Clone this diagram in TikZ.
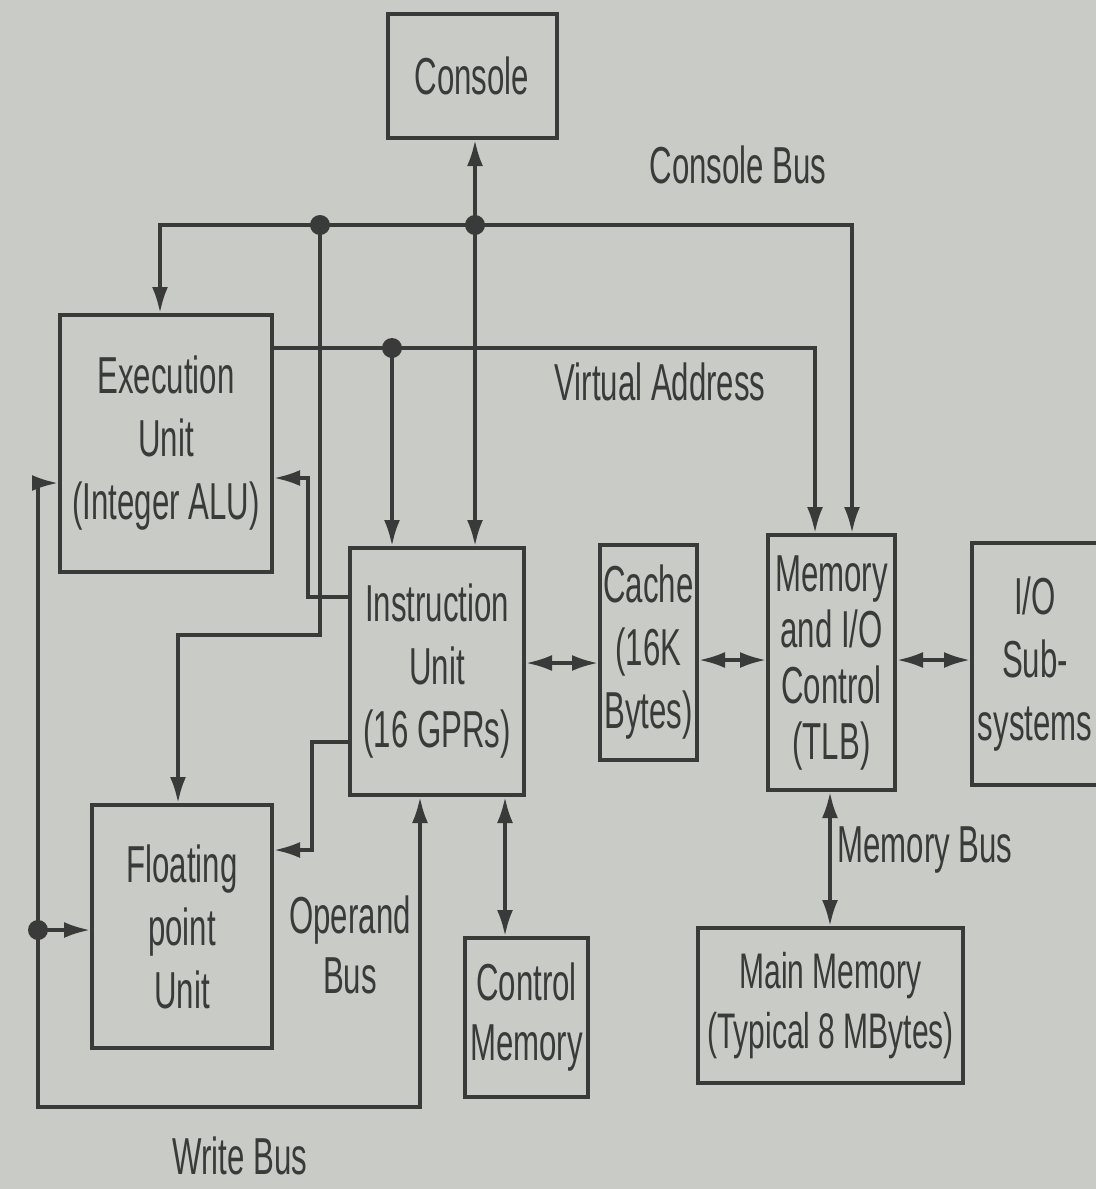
\documentclass[tikz,border=0pt]{standalone}
\usepackage{fontspec}
\setmainfont[FakeStretch=0.6]{Liberation Sans}
\usetikzlibrary{arrows.meta,calc}
\definecolor{paper}{RGB}{201,203,199}
\definecolor{ink}{RGB}{58,58,58}
\begin{document}
\begin{tikzpicture}[x=0.5pt,y=-0.5pt,
  every node/.style={text=ink, font=\fontsize{26}{31.5}\selectfont},
  blk/.style={draw=ink, line width=2pt, align=center, inner sep=0pt},
  bus/.style={draw=ink, line width=1.7pt},
  tip/.tip={Latex[length=13pt,width=8pt]},
  arr/.style={bus, -tip},
  darr/.style={bus, tip-tip},
  junc/.style={circle, fill=ink, inner sep=0pt, minimum size=10pt}]
\fill[paper] (0,0) rectangle (1096,1189);
\useasboundingbox (0,0) rectangle (1096,1189);

% blocks
\node[blk, minimum width=84.5pt, minimum height=62pt] (console) at (472,76) {Console};
\node[blk, minimum width=106pt, minimum height=128.5pt] (exec) at (166,443.5) {Execution\\Unit\\(Integer ALU)};
\node[blk, minimum width=87pt, minimum height=123.5pt] (iu) at (437,671.5) {Instruction\\Unit\\(16 GPRs)};
\node[blk, minimum width=48.5pt, minimum height=107.5pt] (cache) at (648.5,652.5) {Cache\\(16K\\Bytes)};
\node[blk, minimum width=63.5pt, minimum height=127.5pt, font=\fontsize{26}{28}\selectfont] (mic) at (831.5,662.5) {Memory\\and I/O\\Control\\(TLB)};
\node[blk, minimum width=63pt, minimum height=121pt] (io) at (1035,664) {I/O\\Sub-\\systems};
\node[blk, minimum width=90pt, minimum height=121.5pt] (fpu) at (182,926.5) {Floating\\point\\Unit};
\node[blk, minimum width=61.5pt, minimum height=79.5pt, font=\fontsize{26}{30}\selectfont] (cm) at (526.5,1017.5) {Control\\Memory};
\node[blk, minimum width=132.5pt, minimum height=77.5pt, font=\fontsize{25}{30}\selectfont] (mm) at (830.5,1005.5) {Main Memory\\(Typical 8 MBytes)};

% bus coordinates
\coordinate (d1) at (320,225);
\coordinate (d2) at (475,225);
\coordinate (cbL) at (160,225);
\coordinate (cbR) at (852,225);
\coordinate (d3) at (392,348);
\coordinate (vaR) at (815,348);
\coordinate (c1) at (320,635);
\coordinate (c2) at (178,635);
\coordinate (ie1) at (308,597);
\coordinate (ie2) at (308,478);
\coordinate (ob1) at (312,742);
\coordinate (ob2) at (312,850);
\coordinate (wb1) at (38,483);
\coordinate (wb2) at (38,1107);
\coordinate (wb3) at (420,1107);
\coordinate (d4) at (38,930);
\coordinate (h1) at (0,663);
\coordinate (h2) at (0,660);
\coordinate (v1) at (505,0);
\coordinate (v2) at (830,0);

% console bus
\draw[arr] (d2) -- (cbL) -- (cbL |- exec.north);
\draw[arr] (d2) -- (cbR) -- (cbR |- mic.north);
\draw[darr] (console.south -| d2) -- (iu.north -| d2);
\draw[arr] (d1) -- (c1) -- (c2) -- (c2 |- fpu.north);

% virtual address
\draw[arr] (exec.east |- d3) -- (vaR) -- (vaR |- mic.north);
\draw[arr] (d3) -- (d3 |- iu.north);

% instruction unit to execution unit
\draw[arr] (iu.west |- ie1) -- (ie1) -- (ie2) -- (ie2 -| exec.east);

% operand bus
\draw[arr] (iu.west |- ob1) -- (ob1) -- (ob2) -- (ob2 -| fpu.east);

% write bus
\draw[darr] (wb1 -| exec.west) -- (wb1) -- (wb2) -- (wb3) -- (wb3 |- iu.south);
\draw[arr] (d4) -- (d4 -| fpu.west);

% horizontal links
\draw[darr] (iu.east |- h1) -- (cache.west |- h1);
\draw[darr] (cache.east |- h2) -- (mic.west |- h2);
\draw[darr] (mic.east |- h2) -- (io.west |- h2);

% vertical links
\draw[darr] (iu.south -| v1) -- (cm.north -| v1);
\draw[darr] (mic.south -| v2) -- (mm.north -| v2);

% junctions
\node[junc] (j1) at (d1) {};
\node[junc] (j2) at (d2) {};
\node[junc] (j3) at (d3) {};
\node[junc] (j4) at (d4) {};

% labels
\node (lcb) at (738,165) {Console Bus};
\node (lva) at (660,382) {Virtual Address};
\node[align=center, font=\fontsize{26}{30}\selectfont] (lob) at (350,945) {Operand\\Bus};
\node (lwb) at (240,1156) {Write Bus};
\node (lmb) at (925,850) {Memory Bus};
\end{tikzpicture}
\end{document}
